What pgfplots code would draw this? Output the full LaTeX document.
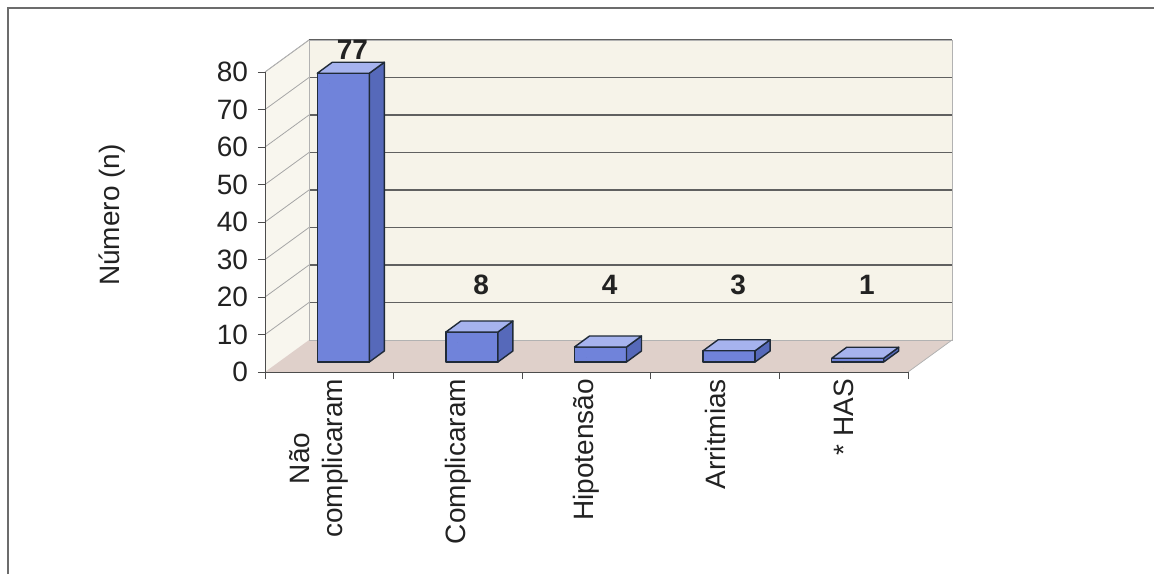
\documentclass[border=0pt]{standalone}
\usepackage{pgfplots}
\pgfplotsset{compat=1.18}
\usepackage{pgfplotstable}
\usetikzlibrary{calc}
\usepackage{fontspec}
\setmainfont{Liberation Sans}

\definecolor{wall}{HTML}{F6F3E9}
\definecolor{sidewall}{HTML}{F8F6EE}
\definecolor{floorc}{HTML}{DFD0CA}
\definecolor{barfront}{HTML}{7083DA}
\definecolor{bartop}{HTML}{A6B3EE}
\definecolor{barside}{HTML}{5669BA}
\definecolor{baredge}{HTML}{1F2A38}
\definecolor{txt}{HTML}{222222}

% x: category centre, val: count, ly: height of the value label
\pgfplotstableread{
x   val ly
0.5 77  85.9
1.5 8   23.2
2.5 4   23.2
3.5 3   23.2
4.5 1   23.2
}\complications

\newcommand{\lbl}{\fontsize{14}{16.5}\selectfont}

\begin{document}
\begin{tikzpicture}
\useasboundingbox (-132.5pt,-101pt) rectangle (444.5pt,186pt);
\draw[gray!85!black, line width=0.7pt] (-128.5pt,-101pt) -- (-128.5pt,182pt) -- (444.5pt,182pt);
\begin{axis}[
  at={(0,0)}, anchor=south west,
  x=64.3pt, y=1.875pt,
  xmin=0, xmax=5, ymin=0, ymax=80,
  clip=false, axis on top,
  axis x line*=bottom, axis y line*=left,
  axis line style={gray!60!black, line width=0.5pt},
  tick style={gray!60!black, line width=0.5pt},
  tick align=outside,
  major tick length=3.5pt,
  ytick={0,10,...,80},
  xtick={0,1,...,5},
  xticklabels={,,,,,},
  extra x ticks={0.42,1.5,2.5,3.5,4.5},
  extra x tick labels={{Não\\complicaram},Complicaram,Hipotensão,Arritmias,* HAS},
  extra x tick style={major tick length=0pt},
  xticklabel style={rotate=90, anchor=east, align=center, font=\lbl, text=txt},
  yticklabel style={font=\lbl, text=txt, xshift=-1.5pt},
  /pgf/number format/assume math mode=true,
  ylabel={Número (n)},
  every axis y label/.style={at={(axis description cs:0,0.5)}, xshift=-76.5pt, yshift=3.5pt,
    rotate=90, anchor=center, font=\lbl, text=txt},
]
% back wall, side wall and floor (depth of the box: 22pt right, 16pt up)
\fill[wall] ($(axis cs:0,0)+(22pt,16pt)$) rectangle ($(axis cs:5,80)+(22pt,16pt)$);
\fill[sidewall] (axis cs:0,0) -- (axis cs:0,80) -- ($(axis cs:0,80)+(22pt,16pt)$)
  -- ($(axis cs:0,0)+(22pt,16pt)$) -- cycle;
\fill[floorc] (axis cs:0,0) -- (axis cs:5,0) -- ($(axis cs:5,0)+(22pt,16pt)$)
  -- ($(axis cs:0,0)+(22pt,16pt)$) -- cycle;
\pgfplotsinvokeforeach{10,20,...,80}{
  \draw[gray!75!black, line width=0.7pt] ($(axis cs:0,#1)+(22pt,16pt)$) -- ($(axis cs:5,#1)+(22pt,16pt)$);
  \draw[gray!70, line width=0.4pt] (axis cs:0,#1) -- ($(axis cs:0,#1)+(22pt,16pt)$);
}
\draw[gray!60, line width=0.4pt] ($(axis cs:0,0)+(22pt,16pt)$) -- ($(axis cs:0,80)+(22pt,16pt)$)
  -- ($(axis cs:5,80)+(22pt,16pt)$) -- ($(axis cs:5,0)+(22pt,16pt)$)
  -- ($(axis cs:0,0)+(22pt,16pt)$);
\draw[gray!60, line width=0.4pt] (axis cs:0,80) -- ($(axis cs:0,80)+(22pt,16pt)$);
\draw[gray!60, line width=0.4pt] (axis cs:5,0) -- ($(axis cs:5,0)+(22pt,16pt)$);

% 3-D bars drawn as a box at every data point
\addplot[
  scatter, only marks, mark=*, mark size=0pt,
  visualization depends on={rawy \as \barval},
  scatter/@pre marker code/.code={%
    \pgfkeys{/pgf/fpu=false}%
    \pgfmathsetmacro\bb{5-\barval*1.875}%
    \pgfmathsetmacro\bs{10.5-\barval*1.875}%
    \filldraw[fill=barfront, draw=baredge, line width=0.7pt, line join=round]
      (-6pt,\bb pt) rectangle (20pt,5pt);
    \filldraw[fill=barside, draw=baredge, line width=0.7pt, line join=round]
      (20pt,\bb pt) -- (27.5pt,\bs pt) -- (27.5pt,10.5pt) -- (20pt,5pt) -- cycle;
    \filldraw[fill=bartop, draw=baredge, line width=0.7pt, line join=round]
      (-6pt,5pt) -- (20pt,5pt) -- (27.5pt,10.5pt) -- (1.5pt,10.5pt) -- cycle;
  },
  scatter/@post marker code/.code={},
] table[x=x, y=val] {\complications};

% value labels
\addplot[
  draw=none, mark=none,
  nodes near coords, point meta=explicit,
  every node near coord/.append style={anchor=center,
    font=\fontsize{14}{14}\selectfont\bfseries, text=txt},
] table[x expr=\thisrow{x}+0.18, y=ly, meta=val] {\complications};
\end{axis}
\end{tikzpicture}
\end{document}
